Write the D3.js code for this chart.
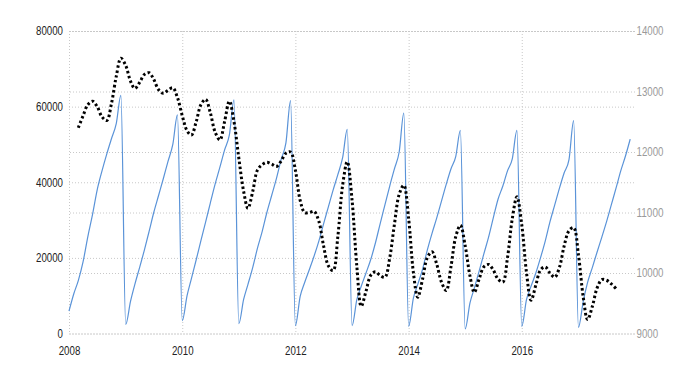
<!DOCTYPE html>
<html>
<head>
<meta charset="utf-8">
<script src="https://cdn.jsdelivr.net/npm/d3@7"></script>
<style>
  html, body { margin: 0; padding: 0; background: #fff; }
  svg { display: block; }
  .lbl { font-family: "Liberation Sans", Arial, sans-serif; font-size: 12px; }
</style>
</head>
<body>
<svg id="chart" width="700" height="375"></svg>
<script>
// ---- DATA ----
const xTickYears = [2008, 2010, 2012, 2014, 2016];
const leftTicks = [0, 20000, 40000, 60000, 80000];
const rightTicks = [9000, 10000, 11000, 12000, 13000, 14000];

// Blue series (left axis): monthly, Jan 2008 .. Dec 2017
const blueStart = [2008, 0];
const blueValues = [
  5900, 10500, 14000, 19000, 25500, 31500, 38000, 43000, 47500, 51500, 55500, 63000,
  2400, 8500, 13000, 17500, 22000, 27000, 32000, 36500, 41000, 45500, 50000, 57800,
  3400, 10000, 14500, 19500, 24500, 29500, 34500, 39500, 44000, 48500, 52500, 61800,
  2600, 9000, 13000, 17500, 22500, 27000, 32000, 36500, 41000, 46000, 50400, 61600,
  2100, 9800, 13500, 17000, 20500, 24500, 29000, 33500, 38000, 42000, 46500, 54000,
  2100, 9000, 12500, 16000, 19500, 24000, 29000, 34000, 39000, 43500, 48000, 58300,
  1900, 9400, 13000, 17000, 22000, 26500, 30500, 35000, 39500, 43500, 46800, 53700,
  1200, 8100, 12000, 16500, 21000, 25500, 30500, 35500, 39000, 43000, 46200, 53700,
  1900, 9000, 12500, 16000, 20000, 24500, 29500, 34000, 38500, 42500, 46000, 56300,
  1600, 8500, 13500, 17500, 21500, 25500, 29500, 34000, 38500, 43000, 47000, 51400
];

// Black dotted series (right axis): monthly, Mar 2008 .. Sep 2017
const blackStart = [2008, 2];
const blackValues = [
  12400, 12600, 12780, 12840, 12750, 12580, 12520, 12800, 13250, 13550,
  13430, 13170, 13050, 13150, 13280, 13310, 13200, 13030, 12970, 13020, 13060, 12900,
  12600, 12350, 12280, 12500, 12780, 12870, 12650, 12330, 12200, 12500, 12840, 12500,
  11900, 11350, 11070, 11350, 11700, 11790, 11830, 11800, 11760, 11850, 11980, 12000,
  11700, 11200, 11000, 11000, 11020, 10850, 10450, 10120, 10040, 10600, 11450, 11840,
  11200, 10100, 9450, 9700, 9960, 10020, 9960, 9930, 10250, 10800, 11300, 11450,
  10900, 10000, 9600, 9900, 10250, 10350, 10150, 9850, 9710, 10100, 10600, 10790,
  10450, 9950, 9680, 9900, 10100, 10140, 10050, 9900, 9850, 10250, 10900, 11260,
  10800, 10000, 9550, 9800, 10050, 10100, 10000, 9930, 10100, 10450, 10700, 10750,
  10300, 9600, 9230, 9450, 9750, 9890, 9880, 9820, 9740
];

// ---- CHART ----
const svg = d3.select("#chart");
const mLeft = 69, mRight = 635, mTop = 31, mBottom = 333.5;

const x = d3.scaleTime()
  .domain([new Date(2008, 0, 1), new Date(2018, 0, 1)])
  .range([mLeft, mRight]);
const yL = d3.scaleLinear().domain([0, 80000]).range([mBottom, mTop]);
const yR = d3.scaleLinear().domain([9000, 14000]).range([mBottom, mTop]);

const toSeries = (start, vals) => vals.map((v, i) => ({
  date: new Date(start[0], start[1] + i, 1), value: v
}));
const blue = toSeries(blueStart, blueValues);
const black = toSeries(blackStart, blackValues);

const gridStyle = g => g.selectAll("line")
  .attr("stroke", "#c8c8c8").attr("stroke-width", 1).attr("stroke-dasharray", "1,2");

// narrow the label glyphs to match the condensed look
const narrow = sel => sel
  .attr("class", "lbl")
  .attr("textLength", function() { return this.textContent.length * 5.4; })
  .attr("lengthAdjust", "spacingAndGlyphs");

// vertical grid
svg.append("g")
  .attr("transform", `translate(0,${mTop})`)
  .call(d3.axisBottom(x).tickValues(xTickYears.map(y => new Date(y, 0, 1)))
    .tickSize(mBottom - mTop).tickFormat(""))
  .call(g => g.select(".domain").remove())
  .call(gridStyle);

// left axis + grid
const gl = svg.append("g")
  .attr("transform", `translate(${mLeft},0)`)
  .call(d3.axisLeft(yL).tickValues(leftTicks).tickSize(-(mRight - mLeft)).tickPadding(6)
    .tickFormat(d3.format("d")))
  .call(g => g.select(".domain").remove())
  .call(gridStyle);
gl.selectAll("text").call(narrow).attr("fill", "#222").attr("x", -6);

// right axis + grid
const gr = svg.append("g")
  .attr("transform", `translate(${mRight},0)`)
  .call(d3.axisRight(yR).tickValues(rightTicks).tickSize(-(mRight - mLeft)).tickPadding(2)
    .tickFormat(d3.format("d")))
  .call(g => g.select(".domain").remove())
  .call(gridStyle);
gr.selectAll("text").call(narrow).attr("fill", "#9a9a9a").attr("x", 1.5);

// x axis labels
const gx = svg.append("g")
  .attr("transform", `translate(0,${mBottom})`)
  .call(d3.axisBottom(x).tickValues(xTickYears.map(y => new Date(y, 0, 1)))
    .tickSize(0).tickPadding(13).tickFormat(d3.timeFormat("%Y")))
  .call(g => g.select(".domain").remove());
gx.selectAll("text").call(narrow).attr("fill", "#222");

// blue line
svg.append("path")
  .datum(blue)
  .attr("fill", "none")
  .attr("stroke", "#5a93d8")
  .attr("stroke-width", 1.2)
  .attr("d", d3.line().x(d => x(d.date)).y(d => yL(d.value)).curve(d3.curveMonotoneX));

// black dotted line
svg.append("path")
  .datum(black)
  .attr("fill", "none")
  .attr("stroke", "#000")
  .attr("stroke-width", 3)
  .attr("stroke-dasharray", "2.5,2.5")
  .attr("d", d3.line().x(d => x(d.date)).y(d => yR(d.value)).curve(d3.curveCatmullRom.alpha(0.5)));
</script>
</body>
</html>
